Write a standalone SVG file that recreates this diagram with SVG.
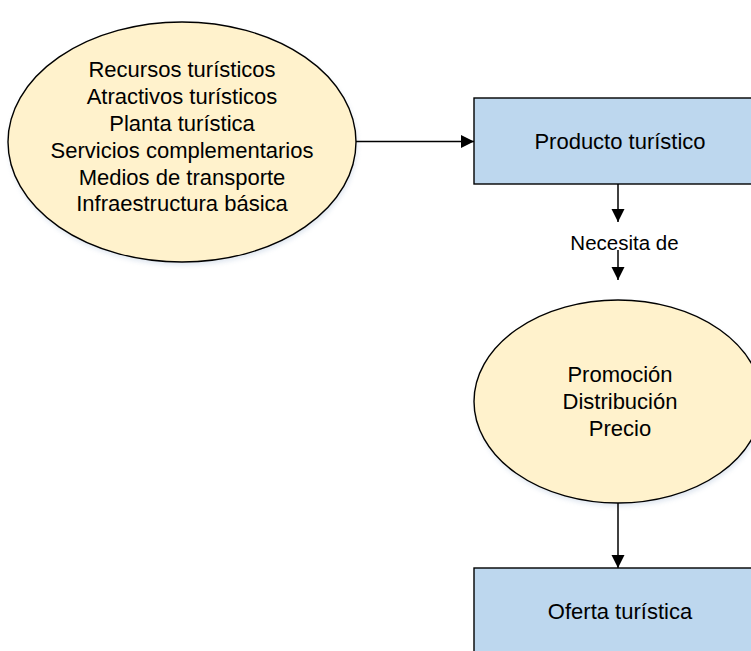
<svg xmlns="http://www.w3.org/2000/svg" width="751" height="651" viewBox="0 0 751 651">
  <style>
    .ell { fill: #FFF2CC; stroke: #000; stroke-width: 1.4; }
    .box { fill: #BDD7EE; stroke: #000; stroke-width: 1.4; }
    .shadow { fill: #9DB4D0; opacity: 0.35; }
    .txt { font-family: "Liberation Sans", Arial, sans-serif; font-size: 22px; fill: #000; text-anchor: middle; }
    .lbl { font-family: "Liberation Sans", Arial, sans-serif; font-size: 20.5px; fill: #000; text-anchor: middle; }
    .con { stroke: #000; stroke-width: 1.5; fill: none; marker-end: url(#arr); }
  </style>
  <defs>
    <marker id="arr" markerUnits="userSpaceOnUse" markerWidth="14" markerHeight="14" refX="13" refY="7" orient="auto">
      <path d="M0,0.5 L13,7 L0,13.5 Z" fill="#000"/>
    </marker>
    <filter id="blur" x="-10%" y="-10%" width="120%" height="120%">
      <feGaussianBlur stdDeviation="2.5"/>
    </filter>
  </defs>
  <rect width="751" height="651" fill="#fff"/>

  <g id="recursos">
    <ellipse class="shadow" cx="183" cy="145" rx="174" ry="120" filter="url(#blur)"/>
    <ellipse class="ell" cx="182" cy="142" rx="174" ry="120"/>
    <text class="txt" x="182" y="76.5">Recursos turísticos</text>
    <text class="txt" x="182" y="103.5">Atractivos turísticos</text>
    <text class="txt" x="182" y="130.5">Planta turística</text>
    <text class="txt" x="182" y="157.5">Servicios complementarios</text>
    <text class="txt" x="182" y="184.5">Medios de transporte</text>
    <text class="txt" x="182" y="211">Infraestructura básica</text>
  </g>

  <g id="producto">
    <rect class="box" x="474" y="98" width="292" height="86"/>
    <text class="txt" x="620" y="148.5">Producto turístico</text>
  </g>

  <g id="promocion">
    <ellipse class="shadow" cx="619" cy="404.5" rx="144" ry="101.5" filter="url(#blur)"/>
    <ellipse class="ell" cx="618" cy="401.5" rx="144" ry="101.5"/>
    <text class="txt" x="620" y="382">Promoción</text>
    <text class="txt" x="620" y="409">Distribución</text>
    <text class="txt" x="620" y="436">Precio</text>
  </g>

  <g id="oferta">
    <rect class="box" x="474" y="568" width="292" height="100"/>
    <text class="txt" x="620" y="618.5">Oferta turística</text>
  </g>

  <g id="connectors">
    <line class="con" x1="356" y1="141.5" x2="474" y2="141.5"/>
    <line class="con" x1="618" y1="184" x2="618" y2="222"/>
    <line class="con" x1="618" y1="250" x2="618" y2="280"/>
    <line class="con" x1="618" y1="503" x2="618" y2="568"/>
    <text class="lbl" x="624.5" y="250">Necesita de</text>
  </g>
</svg>
